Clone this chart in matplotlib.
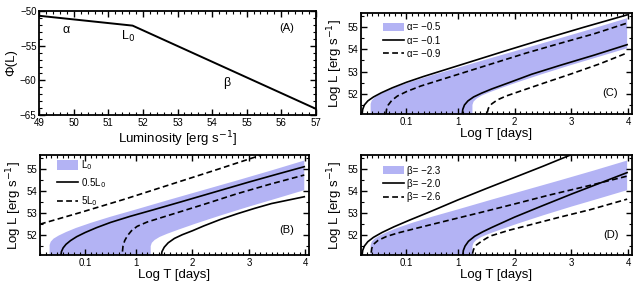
import matplotlib.pyplot as plt
from matplotlib.ticker import MultipleLocator, FixedLocator

plt.rcParams['font.family'] = ['Liberation Sans', 'DejaVu Sans']

# (A) broken power-law luminosity function
lum = [49.0, 51.7, 57.0]
phi = [-50.68, -52.1, -64.1]

# fiducial band (L0, alpha=-0.5, beta=-2.3), same in B, C, D
band_up_t = [-0.53, -0.53, -0.51, -0.46, -0.37, -0.24, -0.06, 0.20, 0.55, 1.00, 1.60, 2.20, 2.80, 3.40, 3.98]
band_up_L = [51.08, 51.55, 51.70, 51.84, 51.98, 52.14, 52.33, 52.56, 52.84, 53.17, 53.62, 54.06, 54.50, 54.95, 55.40]
band_lo_t = [1.26, 1.26, 1.28, 1.33, 1.42, 1.55, 1.75, 2.05, 2.50, 3.00, 3.50, 3.98]
band_lo_L = [51.08, 51.50, 51.65, 51.78, 51.92, 52.06, 52.25, 52.52, 52.90, 53.30, 53.68, 54.05]

# (B) 0.5 L0 (solid) and 5 L0 (dashed)
b_sol1_t = [-0.33, -0.32, -0.29, -0.24, -0.16, -0.05, 0.10, 0.30, 0.55, 0.90, 1.30, 1.80, 2.40, 3.00, 3.50, 3.98]
b_sol1_L = [51.08, 51.25, 51.42, 51.58, 51.75, 51.93, 52.12, 52.34, 52.58, 52.86, 53.15, 53.52, 53.97, 54.42, 54.78, 55.12]
b_sol2_t = [1.45, 1.46, 1.50, 1.57, 1.68, 1.82, 2.00, 2.20, 2.50, 2.80, 3.10, 3.40, 3.70, 3.98]
b_sol2_L = [51.08, 51.25, 51.45, 51.65, 51.85, 52.02, 52.20, 52.42, 52.72, 52.98, 53.22, 53.44, 53.60, 53.75]
b_das1_t = [-0.70, 0.00, 0.80, 1.60, 2.40, 3.30]
b_das1_L = [52.50, 53.02, 53.64, 54.30, 54.96, 55.72]
b_das2_t = [0.76, 0.77, 0.80, 0.85, 0.92, 1.02, 1.20, 1.45, 1.80, 2.20, 2.78, 3.37, 3.98]
b_das2_L = [51.25, 51.50, 51.75, 51.98, 52.20, 52.40, 52.60, 52.80, 53.08, 53.40, 53.88, 54.32, 54.74]

# (C) alpha = -0.1 (solid), -0.9 (dashed)
c_sol1_t = [-0.68, -0.67, -0.64, -0.58, -0.48, -0.34, -0.15, 0.10, 0.40, 0.80, 1.30, 1.90, 2.50, 3.20, 3.98]
c_sol1_L = [51.08, 51.30, 51.50, 51.68, 51.86, 52.05, 52.27, 52.52, 52.78, 53.10, 53.50, 53.98, 54.45, 54.98, 55.55]
c_sol2_t = [1.08, 1.09, 1.12, 1.18, 1.28, 1.42, 1.60, 1.90, 2.30, 2.80, 3.40, 3.98]
c_sol2_L = [51.08, 51.30, 51.50, 51.68, 51.86, 52.03, 52.22, 52.50, 52.88, 53.28, 53.74, 54.21]
c_das1_t = [-0.26, -0.25, -0.22, -0.16, -0.06, 0.10, 0.35, 0.70, 1.10, 1.60, 2.20, 2.80, 3.40, 3.98]
c_das1_L = [51.08, 51.30, 51.50, 51.70, 51.90, 52.10, 52.35, 52.63, 52.95, 53.35, 53.83, 54.27, 54.70, 55.18]
c_das2_t = [1.52, 1.54, 1.60, 1.70, 1.85, 2.10, 2.50, 3.00, 3.50, 3.98]
c_das2_L = [51.15, 51.35, 51.55, 51.73, 51.90, 52.12, 52.47, 52.90, 53.35, 53.84]

# (D) beta = -2.0 (solid), -2.6 (dashed)
d_sol1_t = [-0.68, -0.67, -0.64, -0.58, -0.48, -0.33, -0.12, 0.15, 0.50, 1.00, 1.50, 2.00, 2.50, 2.98]
d_sol1_L = [51.08, 51.30, 51.50, 51.70, 51.90, 52.12, 52.38, 52.68, 53.05, 53.60, 54.12, 54.63, 55.14, 55.65]
d_sol2_t = [1.09, 1.10, 1.13, 1.19, 1.30, 1.44, 1.60, 2.00, 2.50, 3.00, 3.50, 3.98]
d_sol2_L = [51.08, 51.30, 51.50, 51.72, 51.95, 52.15, 52.35, 52.82, 53.35, 53.87, 54.37, 54.85]
d_das1_t = [-0.52, -0.51, -0.48, -0.40, -0.25, -0.05, 0.30, 0.80, 1.40, 2.00, 2.60, 3.30, 3.98]
d_das1_L = [51.20, 51.40, 51.58, 51.76, 51.94, 52.10, 52.33, 52.65, 53.03, 53.42, 53.82, 54.25, 54.69]
d_das2_t = [1.26, 1.28, 1.33, 1.42, 1.52, 1.60, 1.90, 2.20, 2.75, 3.33, 3.98]
d_das2_L = [51.15, 51.35, 51.55, 51.72, 51.88, 51.98, 52.22, 52.42, 52.79, 53.16, 53.64]

t_ticks = [0.1, 1, 2, 3, 4]
t_labels = ['0.1', '1', '2', '3', '4']

band_color = '#b3b3f4'
dash = (0, (3.5, 2))


def style(ax):
    ax.tick_params(which='both', direction='in', top=True, right=True,
                   labelsize=7, pad=2)
    ax.tick_params(which='major', length=4, width=1)
    ax.tick_params(which='minor', length=2, width=0.8)
    for s in ax.spines.values():
        s.set_linewidth(1.3)


def lc_panel(ax, sol1, sol2, das1, das2, labels, tag, leg):
    ax.fill(band_up_t + band_lo_t[::-1], band_up_L + band_lo_L[::-1],
            color=band_color, lw=0, label=labels[0])
    ax.plot(sol1[0], sol1[1], color='black', lw=1.2, label=labels[1])
    ax.plot(sol2[0], sol2[1], color='black', lw=1.2)
    ax.plot(das1[0], das1[1], color='black', lw=1.2, ls=dash, label=labels[2])
    ax.plot(das2[0], das2[1], color='black', lw=1.2, ls=dash)
    ax.set_xlim(-0.7, 4.06)
    ax.set_ylim(51.08, 55.65)
    ax.xaxis.set_major_locator(FixedLocator(t_ticks))
    ax.set_xticklabels(t_labels)
    ax.xaxis.set_minor_locator(MultipleLocator(0.1))
    ax.yaxis.set_major_locator(MultipleLocator(1))
    ax.yaxis.set_minor_locator(MultipleLocator(0.5))
    ax.set_xlabel('Log T [days]', fontsize=9.5, labelpad=1)
    ax.set_ylabel('Log L [erg s$^{-1}$]', fontsize=9.5, labelpad=2)
    ax.legend(loc='upper left', bbox_to_anchor=(leg[0], leg[1]), frameon=False,
              fontsize=7, handlelength=2.2, handleheight=leg[2],
              labelspacing=leg[3], handletextpad=0.3, borderaxespad=0.2)
    ax.text(tag[1], tag[2], tag[0], transform=ax.transAxes, fontsize=8,
            ha='center', va='center')
    style(ax)


fig = plt.figure(figsize=(6.4, 2.84), dpi=100)
axA = fig.add_axes([0.0614, 0.595, 0.432, 0.366])
axB = fig.add_axes([0.0625, 0.101, 0.420, 0.353])
axC = fig.add_axes([0.564, 0.5975, 0.423, 0.358])
axD = fig.add_axes([0.564, 0.101, 0.423, 0.353])

axA.plot(lum, phi, color='black', lw=1.4)
axA.set_xlim(49, 57)
axA.set_ylim(-65, -50)
axA.xaxis.set_major_locator(MultipleLocator(1))
axA.xaxis.set_minor_locator(MultipleLocator(0.2))
axA.yaxis.set_major_locator(MultipleLocator(5))
axA.yaxis.set_minor_locator(MultipleLocator(1))
axA.set_xlabel('Luminosity [erg s$^{-1}$]', fontsize=9.5, labelpad=1)
axA.set_ylabel('Φ(L)', fontsize=9.5, labelpad=2)
axA.text(49.79, -52.7, 'α', fontsize=9, ha='center', va='center')
axA.text(51.56, -53.7, 'L$_0$', fontsize=9, ha='center', va='center')
axA.text(54.42, -60.4, 'β', fontsize=9, ha='center', va='center')
axA.text(0.895, 0.84, '(A)', transform=axA.transAxes, fontsize=8,
         ha='center', va='center')
style(axA)

lc_panel(axB, (b_sol1_t, b_sol1_L), (b_sol2_t, b_sol2_L),
         (b_das1_t, b_das1_L), (b_das2_t, b_das2_L),
         ['L$_0$', '0.5L$_0$', '5L$_0$'], ('(B)', 0.917, 0.25),
         (0.04, 1.026, 1.2, 0.45))
lc_panel(axC, (c_sol1_t, c_sol1_L), (c_sol2_t, c_sol2_L),
         (c_das1_t, c_das1_L), (c_das2_t, c_das2_L),
         ['α= −0.5', 'α= −0.1', 'α= −0.9'], ('(C)', 0.92, 0.21),
         (0.06, 0.964, 0.9, 0.35))
lc_panel(axD, (d_sol1_t, d_sol1_L), (d_sol2_t, d_sol2_L),
         (d_das1_t, d_das1_L), (d_das2_t, d_das2_L),
         ['β= −2.3', 'β= −2.0', 'β= −2.6'], ('(D)', 0.925, 0.2),
         (0.06, 0.954, 0.9, 0.35))

fig.savefig('out.png', dpi=100)
